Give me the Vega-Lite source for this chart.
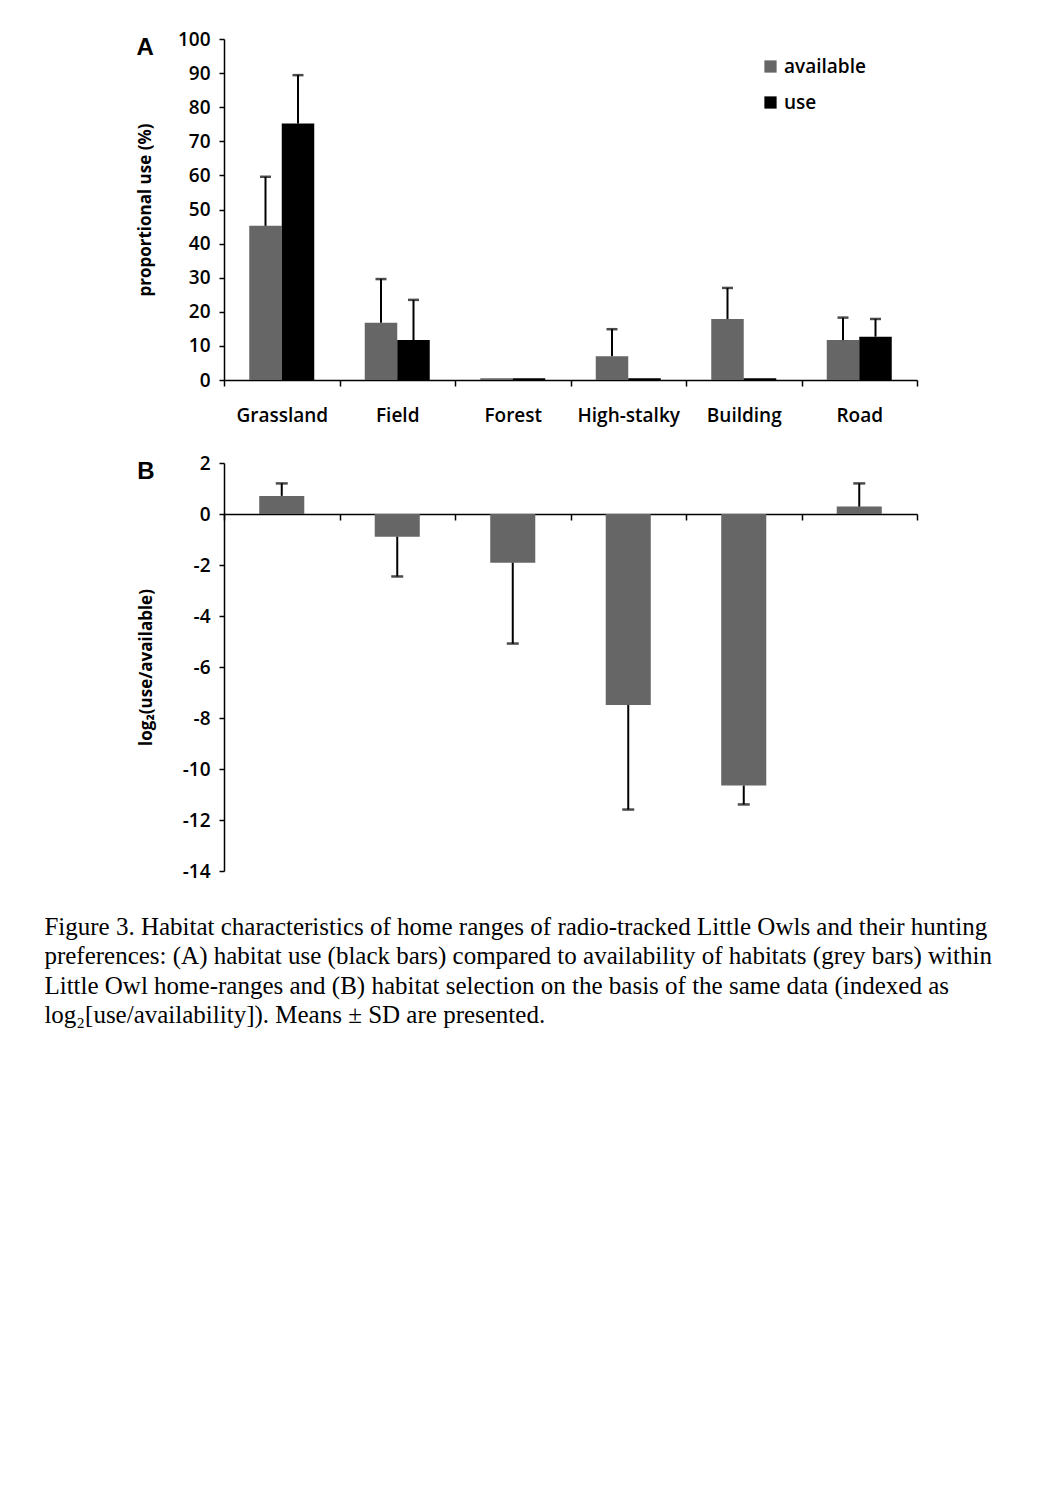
{
  "$schema": "https://vega.github.io/schema/vega-lite/v6.json",
  "autosize": {"type": "pad"},
  "padding": {"left": 44, "top": 30, "right": 20, "bottom": 10},
  "background": "white",
  "config": {
    "view": {"stroke": null},
    "font": "Open Sans",
    "axis": {
      "grid": false,
      "labelColor": "black",
      "labelFont": "Open Sans",
      "labelFontSize": 19,
      "labelFontWeight": 600,
      "domainColor": "black",
      "domainWidth": 1.5,
      "tickColor": "black",
      "tickWidth": 1.5,
      "tickSize": 5,
      "titleFont": "Open Sans",
      "titleFontWeight": "bold",
      "titleFontSize": 17,
      "titleColor": "black"
    }
  },
  "title": {
    "text": [
      "Figure 3. Habitat characteristics of home ranges of radio-tracked Little Owls and their hunting",
      "preferences: (A) habitat use (black bars) compared to availability of habitats (grey bars) within",
      "Little Owl home-ranges and (B) habitat selection on the basis of the same data (indexed as",
      "log₂[use/availability]). Means ± SD are presented."
    ],
    "orient": "bottom",
    "anchor": "start",
    "frame": "bounds",
    "font": "Liberation Serif",
    "fontSize": 25,
    "fontWeight": "normal",
    "lineHeight": 29.4,
    "color": "black",
    "offset": 34,
    "dx": -92
  },
  "bounds": "flush",
  "spacing": 83,
  "vconcat": [
    {
      "width": 693,
      "height": 341,
      "title": {
        "text": "A",
        "orient": "top",
        "anchor": "start",
        "frame": "bounds",
        "font": "Liberation Sans",
        "fontSize": 24,
        "fontWeight": "bold",
        "color": "black",
        "baseline": "top",
        "offset": 0,
        "dy": 30
      },
      "data": {
        "values": [
          {"habitat": "Grassland", "series": "available", "mean": 45.2, "upper": 59.6},
          {"habitat": "Grassland", "series": "use", "mean": 75.2, "upper": 89.4},
          {"habitat": "Field", "series": "available", "mean": 16.8, "upper": 29.6},
          {"habitat": "Field", "series": "use", "mean": 11.7, "upper": 23.5},
          {"habitat": "Forest", "series": "available", "mean": 0.5, "upper": null},
          {"habitat": "Forest", "series": "use", "mean": 0.5, "upper": null},
          {"habitat": "High-stalky", "series": "available", "mean": 7.0, "upper": 14.9},
          {"habitat": "High-stalky", "series": "use", "mean": 0.5, "upper": null},
          {"habitat": "Building", "series": "available", "mean": 17.9, "upper": 27.0},
          {"habitat": "Building", "series": "use", "mean": 0.5, "upper": null},
          {"habitat": "Road", "series": "available", "mean": 11.7, "upper": 18.3},
          {"habitat": "Road", "series": "use", "mean": 12.7, "upper": 17.9}
        ]
      },
      "encoding": {
        "x": {
          "field": "habitat",
          "type": "nominal",
          "sort": ["Grassland", "Field", "Forest", "High-stalky", "Building", "Road"],
          "scale": {"paddingInner": 0, "paddingOuter": 0},
          "axis": {"title": null, "labelAngle": 0, "tickBand": "extent", "tickSize": 6, "labelPadding": 20}
        },
        "xOffset": {
          "field": "series",
          "type": "nominal",
          "scale": {"domain": ["available", "use"], "paddingInner": 0, "paddingOuter": 0.777}
        }
      },
      "layer": [
        {
          "mark": {"type": "bar"},
          "encoding": {
            "y": {
              "field": "mean",
              "type": "quantitative",
              "scale": {"domain": [0, 100]},
              "axis": {"title": "proportional use (%)", "values": [0, 10, 20, 30, 40, 50, 60, 70, 80, 90, 100], "labelPadding": 9, "titlePadding": 23}
            },
            "color": {
              "field": "series",
              "type": "nominal",
              "scale": {"domain": ["available", "use"], "range": ["#666666", "#000000"]},
              "legend": {
                "orient": "none",
                "legendX": 537,
                "legendY": 18,
                "title": null,
                "symbolType": "square",
                "symbolSize": 150,
                "symbolStrokeWidth": 0,
                "labelFontSize": 19,
                "labelFont": "Open Sans",
                "labelFontWeight": 600,
                "labelColor": "black",
                "rowPadding": 16
              }
            }
          }
        },
        {
          "transform": [{"filter": "datum.upper != null"}],
          "mark": {"type": "rule", "color": "black", "strokeWidth": 2},
          "encoding": {
            "y": {
              "field": "mean",
              "type": "quantitative",
              "axis": {"title": "proportional use (%)", "values": [0, 10, 20, 30, 40, 50, 60, 70, 80, 90, 100], "labelPadding": 9, "titlePadding": 23}
            },
            "y2": {"field": "upper"}
          }
        },
        {
          "transform": [{"filter": "datum.upper != null"}],
          "mark": {"type": "tick", "color": "black", "thickness": 2.5, "size": 11, "orient": "horizontal"},
          "encoding": {
            "y": {
              "field": "upper",
              "type": "quantitative",
              "axis": {"title": "proportional use (%)", "values": [0, 10, 20, 30, 40, 50, 60, 70, 80, 90, 100], "labelPadding": 9, "titlePadding": 23}
            }
          }
        }
      ]
    },
    {
      "width": 693,
      "height": 408,
      "title": {
        "text": "B",
        "orient": "top",
        "anchor": "start",
        "frame": "bounds",
        "font": "Liberation Sans",
        "fontSize": 24,
        "fontWeight": "bold",
        "color": "black",
        "baseline": "top",
        "offset": 0,
        "dy": 30
      },
      "data": {
        "values": [
          {"habitat": "Grassland", "mean": 0.71, "err": 1.2},
          {"habitat": "Field", "mean": -0.89, "err": -2.45},
          {"habitat": "Forest", "mean": -1.91, "err": -5.08},
          {"habitat": "High-stalky", "mean": -7.49, "err": -11.59},
          {"habitat": "Building", "mean": -10.65, "err": -11.39},
          {"habitat": "Road", "mean": 0.29, "err": 1.2}
        ]
      },
      "encoding": {
        "x": {
          "field": "habitat",
          "type": "nominal",
          "sort": ["Grassland", "Field", "Forest", "High-stalky", "Building", "Road"],
          "scale": {"paddingInner": 0, "paddingOuter": 0},
          "axis": {"title": null, "labels": false, "tickBand": "extent", "tickSize": 6, "offset": -357}
        }
      },
      "layer": [
        {
          "mark": {"type": "bar", "color": "#666666", "width": {"band": 0.39}},
          "encoding": {
            "y": {
              "field": "mean",
              "type": "quantitative",
              "scale": {"domain": [-14, 2]},
              "axis": {"title": "log₂(use/available)", "values": [2, 0, -2, -4, -6, -8, -10, -12, -14], "labelExpr": "'' + datum.value", "labelPadding": 9, "titlePadding": 27}
            }
          }
        },
        {
          "mark": {"type": "rule", "color": "black", "strokeWidth": 2},
          "encoding": {
            "y": {
              "field": "mean",
              "type": "quantitative",
              "axis": {"title": "log₂(use/available)", "values": [2, 0, -2, -4, -6, -8, -10, -12, -14], "labelExpr": "'' + datum.value", "labelPadding": 9, "titlePadding": 27}
            },
            "y2": {"field": "err"}
          }
        },
        {
          "mark": {"type": "tick", "color": "black", "thickness": 2.5, "size": 12, "orient": "horizontal"},
          "encoding": {
            "y": {
              "field": "err",
              "type": "quantitative",
              "axis": {"title": "log₂(use/available)", "values": [2, 0, -2, -4, -6, -8, -10, -12, -14], "labelExpr": "'' + datum.value", "labelPadding": 9, "titlePadding": 27}
            }
          }
        }
      ]
    }
  ]
}
